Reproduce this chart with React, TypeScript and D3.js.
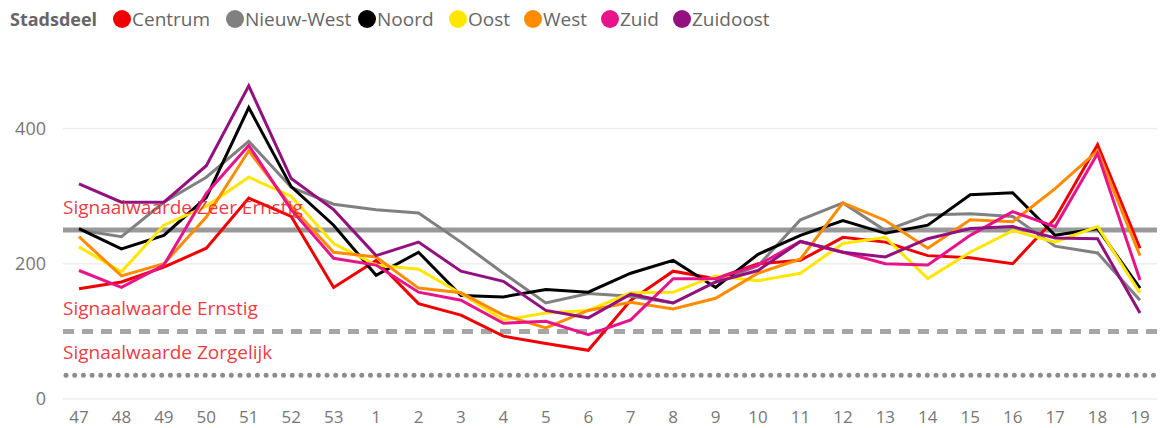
import React from "react";
import * as d3 from "d3";

const weeks = ["47","48","49","50","51","52","53","1","2","3","4","5","6","7","8","9","10","11","12","13","14","15","16","17","18","19"];
const seriesNames = ["Centrum","Nieuw-West","Noord","Oost","West","Zuid","Zuidoost"];
const seriesColors = ["#F00000","#808080","#000000","#FFE600","#FF8C00","#E8138A","#93117E"];

const centrum = [163,173,195,223,297,270,165,205,141,124,93,82,72,146,189,178,200,205,239,232,212,209,200,267,376,223];
const nieuwWest = [250,240,291,328,381,313,288,280,275,232,186,142,156,152,142,173,197,265,290,249,272,274,270,226,216,146];
const noord = [252,222,242,298,431,314,257,183,217,153,151,162,158,186,205,165,214,242,264,245,257,302,305,242,252,164];
const oost = [225,188,257,285,328,300,230,198,192,156,117,127,131,157,158,182,175,186,230,239,178,217,249,232,255,157];
const west = [240,182,200,269,367,285,217,210,164,157,124,105,131,143,133,149,186,207,290,264,223,265,262,311,367,212];
const zuid = [190,165,198,304,375,280,208,198,158,146,112,115,95,117,178,178,198,233,217,200,198,242,277,255,363,176];
const zuidoost = [318,291,291,345,463,326,280,212,232,189,174,131,120,155,142,173,190,233,217,210,237,252,255,238,237,127];
const allSeries = [centrum, nieuwWest, noord, oost, west, zuid, zuidoost];

const yTicks = [0, 200, 400];
const refValues = [250, 100, 35];
const refLabels = ["Signaalwaarde Zeer Ernstig", "Signaalwaarde Ernstig", "Signaalwaarde Zorgelijk"];

const W = 1162, H = 428;
const font = "'Segoe UI', 'Open Sans', 'DejaVu Sans', sans-serif";

export default function App() {
  const x = d3.scalePoint<string>().domain(weeks).range([79, 1140]);
  const y = d3.scaleLinear().domain([0, 400]).range([399, 128.5]);
  const line = d3.line<number>().x((_, i) => x(weeks[i]) as number).y((d) => y(d));

  const legendX = [122, 235, 367, 458, 533, 610, 682];

  return (
    <svg width={W} height={H} style={{ position: "absolute", left: 0, top: 0, background: "#fff" }}>
      {/* legend */}
      <text x={10} y={26} fontFamily={font} fontSize={18} fontWeight={700} fill="#666" textLength={87} lengthAdjust="spacingAndGlyphs">Stadsdeel</text>
      {seriesNames.map((n, i) => (
        <g key={n}>
          <circle cx={legendX[i]} cy={19} r={9} fill={seriesColors[i]} />
          <text x={legendX[i] + 10} y={26} fontFamily={font} fontSize={19} fill="#666">{n}</text>
        </g>
      ))}
      {/* grid */}
      {yTicks.map((t) => (
        <g key={t}>
          <line x1={63} x2={1157} y1={y(t)} y2={y(t)} stroke="#eeeeee" strokeWidth={1.5} />
          <text x={46} y={y(t) + 6} textAnchor="end" fontFamily={font} fontSize={18} fill="#777">{t}</text>
        </g>
      ))}
      {/* x labels */}
      {weeks.map((w) => (
        <text key={w} x={x(w) as number} y={423} textAnchor="middle" fontFamily={font} fontSize={17} fill="#777">{w}</text>
      ))}
      {/* reference lines */}
      <line x1={63} x2={1157} y1={y(refValues[0])} y2={y(refValues[0])} stroke="#999" strokeWidth={5} />
      <line x1={63} x2={1157} y1={y(refValues[1])} y2={y(refValues[1])} stroke="#a6a6a6" strokeWidth={5} strokeDasharray="11 8" />
      <line x1={66} x2={1157} y1={y(refValues[2])} y2={y(refValues[2])} stroke="#8c8c8c" strokeWidth={5} strokeDasharray="0 8.7" strokeLinecap="round" />
      {/* series */}
      {allSeries.map((s, i) => (
        <path key={i} d={line(s) || ""} fill="none" stroke={seriesColors[i]} strokeWidth={3} strokeLinejoin="miter" />
      ))}
      {/* ref labels */}
      {refLabels.map((l, i) => (
        <text key={l} x={63} y={y(refValues[i]) - 16} fontFamily={font} fontSize={19} fill="#F0202A" fillOpacity={0.9}>{l}</text>
      ))}
    </svg>
  );
}
